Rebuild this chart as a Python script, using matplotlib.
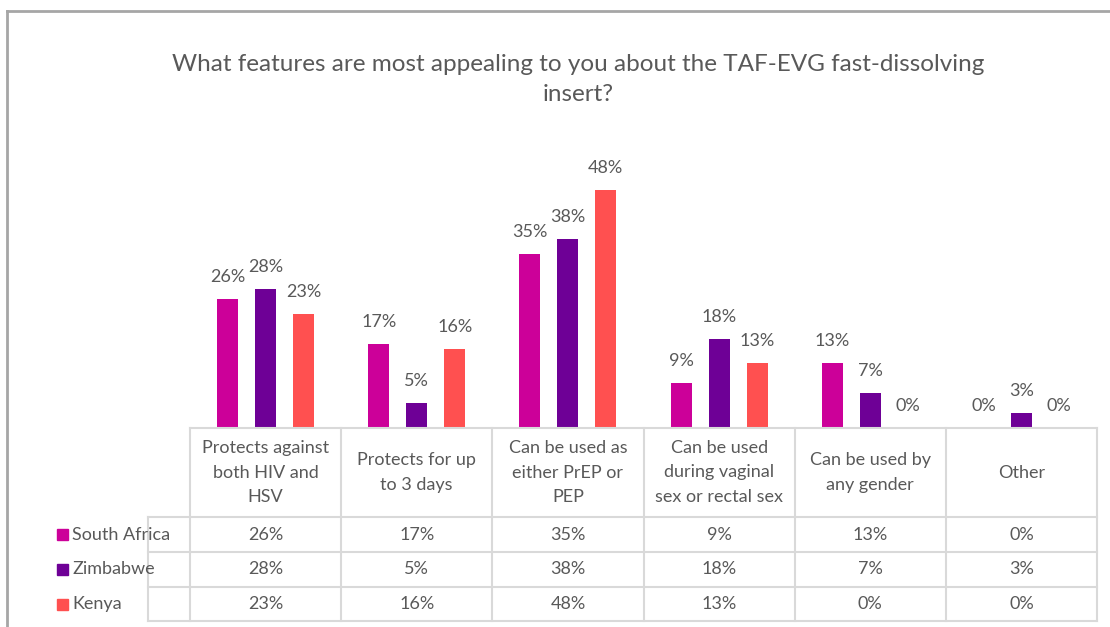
import numpy as np
import matplotlib
matplotlib.use("Agg")
import matplotlib.pyplot as plt
from matplotlib.lines import Line2D
from matplotlib.patches import Rectangle
from matplotlib.transforms import blended_transform_factory

categories = ["Protects against\nboth HIV and\nHSV",
              "Protects for up\nto 3 days",
              "Can be used as\neither PrEP or\nPEP",
              "Can be used\nduring vaginal\nsex or rectal sex",
              "Can be used by\nany gender",
              "Other"]
countries = ["South Africa", "Zimbabwe", "Kenya"]
south_africa = [26, 17, 35, 9, 13, 0]
zimbabwe = [28, 5, 38, 18, 7, 3]
kenya = [23, 16, 48, 13, 0, 0]
colors = ["#CC0099", "#6E0096", "#FF5050"]
title = "What features are most appealing to you about the TAF-EVG fast-dissolving\ninsert?"

W, H = 1110, 627
TXT = "#595959"
GRID = "#D9D9D9"
FS = 13
plt.rcParams['font.family'] = ['Lato', 'DejaVu Sans']

fig = plt.figure(figsize=(W / 100, H / 100), dpi=100)


def fx(x):
    return x / W


def fy(y):
    return 1 - y / H


ax = fig.add_axes([fx(190), fy(428), fx(1097) - fx(190), fy(130) - fy(428)])
ax.set_xlim(-0.5, len(categories) - 0.5)
ax.set_ylim(0, 60)
ax.axis("off")

series = [south_africa, zimbabwe, kenya]
x = np.arange(len(categories))
offsets = [-0.251, 0, 0.251]
for vals, off, c in zip(series, offsets, colors):
    bars = ax.bar(x + off, vals, width=0.139, color=c)
    for b, v in zip(bars, vals):
        ax.annotate(f"{v}%", (b.get_x() + b.get_width() / 2, v),
                    xytext=(0, 17), textcoords="offset pixels",
                    ha="center", va="baseline", fontsize=FS, color=TXT)

fig.text(fx(578), fy(79.5), title, ha="center", va="center", fontsize=17.5,
         color=TXT, linespacing=1.5)

# data table under the plot
tr = blended_transform_factory(ax.transData, fig.transFigure)
row_y = [428, 517, 552, 587, 621]
left_px = 148
for yy in row_y:
    x0 = fx(190) if yy == 428 else fx(left_px)
    fig.add_artist(Line2D([x0, fx(1097)], [fy(yy), fy(yy)], color=GRID, lw=1.5))
for i in range(len(categories) + 1):
    ax.plot([i - 0.5, i - 0.5], [fy(428), fy(621)], color=GRID, lw=1.5,
            transform=tr, clip_on=False)
fig.add_artist(Line2D([fx(left_px), fx(left_px)], [fy(517), fy(621)], color=GRID, lw=1.5))

for i, cat in enumerate(categories):
    ax.text(i, fy(472.5), cat, transform=tr, ha="center", va="center",
            fontsize=FS, color=TXT, linespacing=1.65)

row_centers = [534.5, 569.5, 604]
for name, vals, c, yc in zip(countries, series, colors, row_centers):
    fig.add_artist(Rectangle((fx(57), fy(yc + 5.5)), fx(11), fy(0) - fy(11),
                             color=c, transform=fig.transFigure))
    fig.text(fx(72), fy(yc), name, ha="left", va="center", fontsize=FS, color=TXT)
    for i, v in enumerate(vals):
        ax.text(i, fy(yc), f"{v}%", transform=tr, ha="center", va="center",
                fontsize=FS, color=TXT)

# chart frame
fig.add_artist(Line2D([fx(7), fx(7)], [fy(11), 0], color="#A6A6A6", lw=2))
fig.add_artist(Line2D([fx(7), 1], [fy(11), fy(11)], color="#A6A6A6", lw=2))

fig.savefig("out.png", dpi=100)
